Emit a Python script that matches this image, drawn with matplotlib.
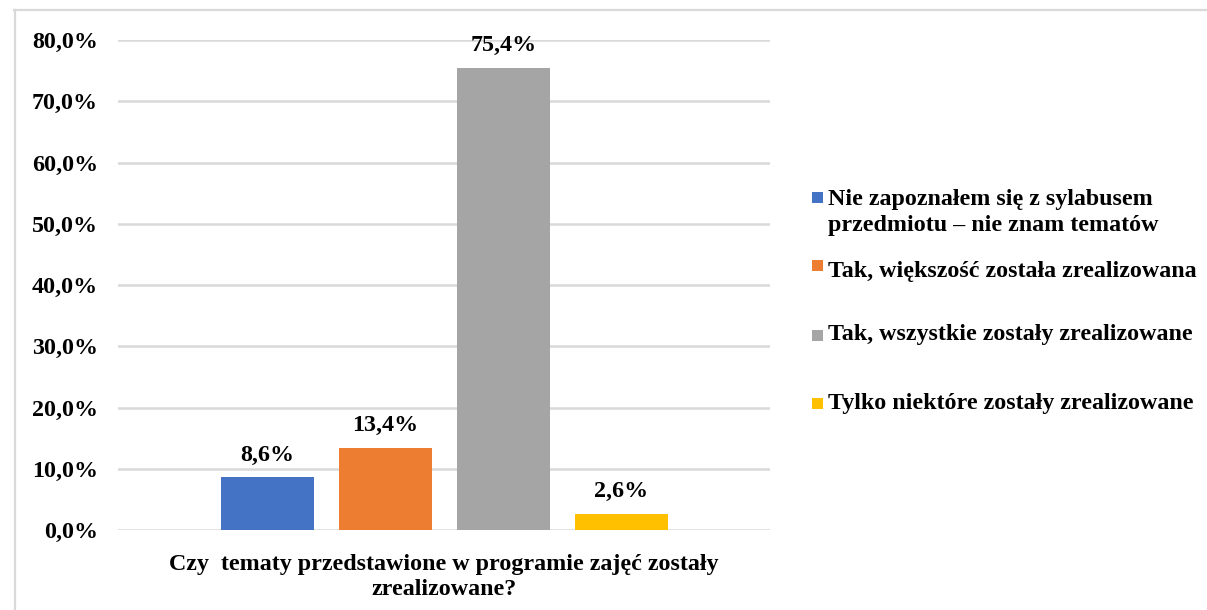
import matplotlib
matplotlib.use("Agg")
import matplotlib.pyplot as plt
from matplotlib.patches import Rectangle
from matplotlib.lines import Line2D

categories = [
    "Nie zapoznałem się z sylabusem\nprzedmiotu – nie znam tematów",
    "Tak, większość została zrealizowana",
    "Tak, wszystkie zostały zrealizowane",
    "Tylko niektóre zostały zrealizowane",
]
values = [8.6, 13.4, 75.4, 2.6]
value_labels = ["8,6%", "13,4%", "75,4%", "2,6%"]
colors = ["#4472C4", "#ED7D31", "#A5A5A5", "#FFC000"]
yticks = [0, 10, 20, 30, 40, 50, 60, 70, 80]
ytick_labels = ["0,0%", "10,0%", "20,0%", "30,0%", "40,0%", "50,0%", "60,0%", "70,0%", "80,0%"]
xlabel = "Czy  tematy przedstawione w programie zajęć zostały\nzrealizowane?"

plt.rcParams["font.family"] = ["Liberation Serif", "DejaVu Serif"]
plt.rcParams["font.weight"] = "bold"

W, H = 1207, 610
fig = plt.figure(figsize=(W / 100, H / 100), dpi=100)
fig.patch.set_facecolor("white")

# outer chart frame (top and left only visible)
fig.add_artist(Line2D([14 / W, 1.0], [1 - 10 / H, 1 - 10 / H], color="#d9d9d9", lw=1.6, transform=fig.transFigure))
fig.add_artist(Line2D([15 / W, 15 / W], [0, 1 - 10 / H], color="#d9d9d9", lw=1.6, transform=fig.transFigure))

left, right = 118 / W, 770 / W
bottom, top = 1 - 530 / H, 1 - 40 / H
ax = fig.add_axes([left, bottom, right - left, top - bottom])

xs = list(range(len(values)))
bars = ax.bar(xs, values, width=0.79, color=colors, zorder=3)
ax.set_xlim(-1.263, 4.258)
ax.set_ylim(0, 80)
ax.set_yticks(yticks)
ax.set_yticklabels(ytick_labels, fontsize=17.3, fontweight="bold")
ax.set_xticks([])
ax.tick_params(axis="y", length=0, pad=14.5)
for s in ax.spines.values():
    s.set_visible(False)
ax.grid(axis="y", color="#d9d9d9", lw=1.8, zorder=0)

for x, v, lab in zip(xs, values, value_labels):
    ax.annotate(lab, (x, v), xytext=(0, 8.5), textcoords="offset points",
                ha="center", va="bottom", fontsize=17.3, fontweight="bold")

ax.set_xlabel(xlabel, fontsize=17.3, fontweight="bold", labelpad=17, linespacing=1.3)

# legend drawn manually to match Excel spacing
legend_y = [200, 272, 335, 404]  # centers (pixels from top) of first text line
square_y = [197, 265, 335, 403]
for i, (cat, col) in enumerate(zip(categories, colors)):
    ys = square_y[i]
    fig.add_artist(Rectangle((812 / W, 1 - (ys + 5.5) / H), 11 / W, 11 / H,
                             facecolor=col, edgecolor="none", transform=fig.transFigure))
    fig.text(828 / W, 1 - (legend_y[i] - 11) / H, cat, ha="left", va="top",
             fontsize=17.3, fontweight="bold", linespacing=1.3)

fig.savefig("out.png", dpi=100)
